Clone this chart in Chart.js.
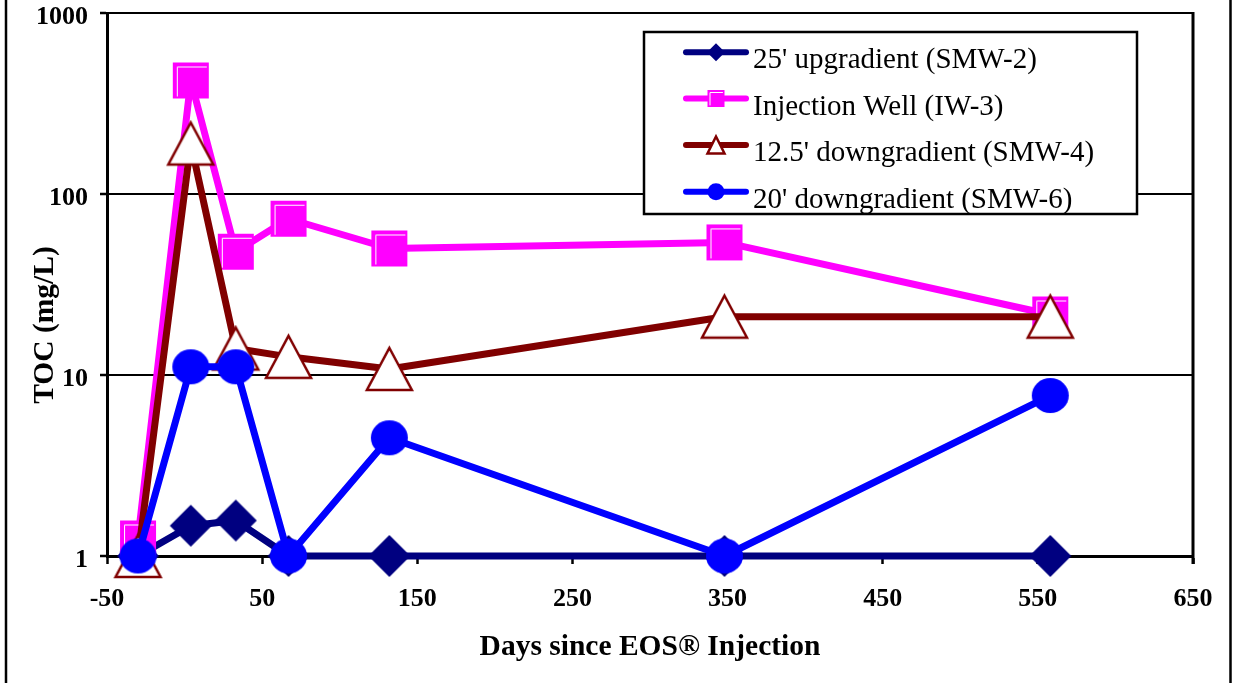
<!DOCTYPE html>
<html><head><meta charset="utf-8">
<script src="https://cdn.jsdelivr.net/npm/chart.js@4.4.0/dist/chart.umd.min.js"></script>
<style>html,body{margin:0;padding:0;background:#fff;} #wrap{width:1233px;height:683px;}</style>
</head><body><div id="wrap"><canvas id="c" width="1233" height="683"></canvas></div>
<script>
const days = [-30, 4, 33, 67, 132, 348, 558];
const smw2 = [1, 1.47, 1.57, 1, 1, 1, 1];
const iw3 = [1.25, 424, 48, 73, 50, 54, 21.6];
const smw4 = [1, 190, 14, 12.6, 10.8, 21, 21];
const smw6 = [1, 11.1, 11.1, 1, 4.5, 1, 7.7];
const seriesNames = ["25' upgradient (SMW-2)", "Injection Well (IW-3)", "12.5' downgradient (SMW-4)", "20' downgradient (SMW-6)"];
const xTicks = [-50, 50, 150, 250, 350, 450, 550, 650];
const yTicks = [1, 10, 100, 1000];
const xTitle = "Days since EOS\u00AE Injection";
const yTitle = "TOC (mg/L)";

const NAVY = '#000080', MAGENTA = '#FF00FF', DARKRED = '#800000', BLUE = '#0000FF';

function drawMarker(ctx, type, cx, cy, w, h, lw) {
  ctx.save();
  if (type === 'diamond') {
    ctx.beginPath();
    ctx.moveTo(cx, cy - h / 2); ctx.lineTo(cx + w / 2, cy); ctx.lineTo(cx, cy + h / 2); ctx.lineTo(cx - w / 2, cy);
    ctx.closePath(); ctx.fillStyle = NAVY; ctx.fill();
  } else if (type === 'square') {
    ctx.fillStyle = MAGENTA;
    ctx.fillRect(cx - w / 2, cy - h / 2, w, h);
    const ins = Math.max(2, Math.round(w * 0.1));
    ctx.strokeStyle = '#fff'; ctx.lineWidth = 1;
    ctx.beginPath();
    ctx.moveTo(cx - w / 2 + ins + 0.5, cy + h / 2 - 2);
    ctx.lineTo(cx - w / 2 + ins + 0.5, cy - h / 2 + ins + 0.5);
    ctx.lineTo(cx + w / 2 - 2, cy - h / 2 + ins + 0.5);
    ctx.stroke();
  } else if (type === 'triangle') {
    ctx.beginPath();
    ctx.moveTo(cx, cy - h / 2); ctx.lineTo(cx + w / 2, cy + h / 2); ctx.lineTo(cx - w / 2, cy + h / 2);
    ctx.closePath(); ctx.fillStyle = '#fff'; ctx.fill();
    ctx.strokeStyle = DARKRED; ctx.lineWidth = lw || 2.5; ctx.lineJoin = 'miter'; ctx.stroke();
  } else if (type === 'circle') {
    ctx.beginPath(); ctx.ellipse(cx, cy, w / 2, h / 2, 0, 0, Math.PI * 2);
    ctx.fillStyle = BLUE; ctx.fill();
  }
  ctx.restore();
}
function makeMarker(type, w, h, lw) {
  const c = document.createElement('canvas');
  c.width = w + 6; c.height = h + 6;
  drawMarker(c.getContext('2d'), type, c.width / 2, c.height / 2, w, h, lw);
  return c;
}

const markerTypes = ['diamond', 'square', 'triangle', 'circle'];
const colors = [NAVY, MAGENTA, DARKRED, BLUE];
const chartMarkers = [
  makeMarker('diamond', 42, 42),
  makeMarker('square', 36, 36),
  makeMarker('triangle', 45, 42, 2.5),
  makeMarker('circle', 37, 35)
];
const seriesData = [smw2, iw3, smw4, smw6];

const datasets = seriesData.map((arr, i) => ({
  label: seriesNames[i],
  data: days.map((d, j) => ({ x: d, y: arr[j] })),
  borderColor: colors[i],
  backgroundColor: colors[i],
  borderWidth: 7,
  borderCapStyle: 'round',
  borderJoinStyle: 'round',
  tension: 0,
  pointStyle: chartMarkers[i],
  pointRadius: 5,
  clip: false,
  order: 3 - i
}));

const FONT = "'Liberation Serif', 'Times New Roman', serif";

const overlay = {
  id: 'overlay',
  afterDraw(chart) {
    const ctx = chart.ctx;
    const a = chart.chartArea;
    ctx.save();
    // right border of plot
    ctx.strokeStyle = '#000'; ctx.lineWidth = 3;
    ctx.beginPath(); ctx.moveTo(a.right, a.top - 1); ctx.lineTo(a.right, a.bottom + 8); ctx.stroke();
    // outer frame
    ctx.lineWidth = 2.5;
    ctx.beginPath(); ctx.moveTo(6, 0); ctx.lineTo(6, 683); ctx.stroke();
    ctx.beginPath(); ctx.moveTo(1230.5, 0); ctx.lineTo(1230.5, 683); ctx.stroke();
    // legend
    const lx = 644, ly = 32, lw = 493, lh = 182;
    ctx.fillStyle = '#fff'; ctx.fillRect(lx, ly, lw, lh);
    ctx.lineWidth = 2.5; ctx.strokeStyle = '#000'; ctx.strokeRect(lx, ly, lw, lh);
    const rows = [52.3, 98.5, 145, 191.7];
    const legendSizes = [[18, 18], [17, 17], [17, 17], [17, 17]];
    for (let i = 0; i < 4; i++) {
      const y = rows[i];
      ctx.strokeStyle = colors[i]; ctx.lineWidth = 6; ctx.lineCap = 'round';
      ctx.beginPath(); ctx.moveTo(686, y); ctx.lineTo(746, y); ctx.stroke();
      drawMarker(ctx, markerTypes[i], 716, y, legendSizes[i][0], legendSizes[i][1], 2.5);
      ctx.fillStyle = '#000'; ctx.font = "29px " + FONT;
      ctx.textAlign = 'left'; ctx.textBaseline = 'alphabetic';
      ctx.fillText(chart.data.datasets[i].label, 753, y + 16);
    }
    // axis titles
    ctx.fillStyle = '#000';
    ctx.font = "bold 29.5px " + FONT;
    ctx.textAlign = 'center'; ctx.textBaseline = 'alphabetic';
    ctx.fillText(xTitle, 650, 655);
    ctx.save();
    ctx.translate(53, 325); ctx.rotate(-Math.PI / 2);
    ctx.fillText(yTitle, 0, 0);
    ctx.restore();
    ctx.restore();
  }
};

new Chart(document.getElementById('c'), {
  type: 'line',
  data: { datasets },
  options: {
    responsive: false,
    animation: false,
    events: [],
    layout: { padding: { left: 0, right: 40, top: 13, bottom: 0 } },
    plugins: { legend: { display: false }, tooltip: { enabled: false }, title: { display: false } },
    scales: {
      x: {
        type: 'linear', min: -50, max: 650,
        afterBuildTicks: s => { s.ticks = xTicks.map(v => ({ value: v })); },
        afterFit: s => { s.height = 127; s.paddingLeft = 0; s.paddingRight = 0; },
        ticks: { color: '#000', font: { family: FONT, size: 26, weight: 'bold' }, padding: 20, maxRotation: 0,
                 callback: (v, i) => String(xTicks[i]) },
        grid: { drawOnChartArea: false, drawTicks: true, tickLength: 8, tickColor: '#000', tickWidth: 2.5, color: '#000' },
        border: { display: true, color: '#000', width: 3 }
      },
      y: {
        type: 'logarithmic', min: 1, max: 1000,
        afterBuildTicks: s => { s.ticks = yTicks.map(v => ({ value: v })); },
        afterFit: s => { s.width = 107; s.paddingTop = 0; s.paddingBottom = 0; },
        ticks: { color: '#000', font: { family: FONT, size: 26, weight: 'bold' }, padding: 12, labelOffset: 4,
                 callback: (v, i) => String(yTicks[i]) },
        grid: { drawOnChartArea: true, drawTicks: true, tickLength: 7, tickColor: '#000', tickWidth: 2.5, color: '#000', lineWidth: 2 },
        border: { display: true, color: '#000', width: 3 }
      }
    }
  },
  plugins: [overlay]
});
</script>
</body></html>
